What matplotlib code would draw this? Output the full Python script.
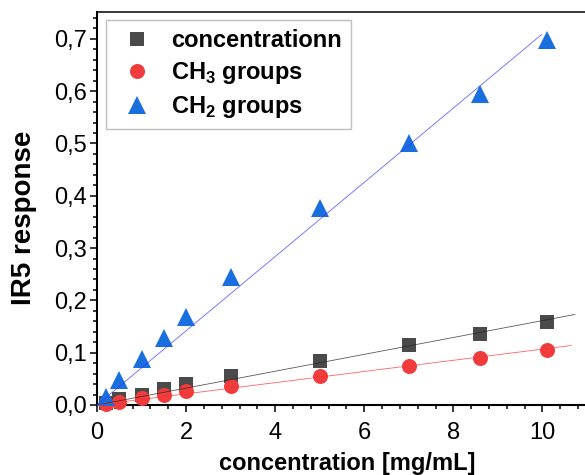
import numpy as np
import matplotlib
matplotlib.use("Agg")
import matplotlib.pyplot as plt

plt.rcParams['font.family'] = ['Liberation Sans', 'DejaVu Sans']
plt.rcParams['mathtext.fontset'] = 'custom'
plt.rcParams['mathtext.rm'] = 'Liberation Sans'
plt.rcParams['mathtext.bf'] = 'Liberation Sans:bold'

# concentrations [mg/mL] and IR5 detector response
conc = np.array([0.2, 0.5, 1.0, 1.5, 2.0, 3.0, 5.0, 7.0, 8.6, 10.1])
resp_conc = np.array([0.004, 0.012, 0.020, 0.030, 0.040, 0.056, 0.085, 0.114, 0.135, 0.158])
resp_ch3 = np.array([0.002, 0.006, 0.013, 0.020, 0.026, 0.036, 0.056, 0.075, 0.090, 0.105])
resp_ch2 = np.array([0.015, 0.048, 0.088, 0.128, 0.169, 0.244, 0.377, 0.500, 0.594, 0.697])

labels = ["concentrationn", r"CH$_\mathbf{3}$ groups", r"CH$_\mathbf{2}$ groups"]
# x-extent of each fitted line
fit_end = [10.73, 10.65, 9.98]

fig = plt.figure(figsize=(5.85, 4.75), dpi=100)
ax = fig.add_axes([0.1658, 0.1474, 0.8376, 0.8274])

series = [
    (resp_conc, 's', '#4a4a4a', 10.5, '#222222'),
    (resp_ch3, 'o', '#f03c3c', 10.8, '#ff3030'),
    (resp_ch2, '^', '#1a6fdf', 13.0, '#3333ff'),
]

for (y, mk, col, ms, lcol), lab, xe in zip(series, labels, fit_end):
    ax.plot(conc, y, mk, color=col, ms=ms, mew=0, label=lab, clip_on=False, zorder=3)
    # linear fit through the origin
    k = np.sum(conc * y) / np.sum(conc * conc)
    xf = np.array([0.0, xe])
    ax.plot(xf, k * xf, '-', color=lcol, lw=0.6, alpha=0.75, zorder=4)

ax.set_xlim(0, 11)
ax.set_ylim(0, 0.7514)
ax.set_xticks(np.arange(0, 11, 2))
ax.set_xticks(np.arange(0, 11, 0.4), minor=True)
ax.set_yticks(np.arange(0, 0.71, 0.1))
ax.set_yticks(np.arange(0, 0.75, 0.02), minor=True)
ax.set_yticklabels([f"{v:.1f}".replace('.', ',') for v in np.arange(0, 0.71, 0.1)])

for s in ['left', 'bottom']:
    ax.spines[s].set_linewidth(1.5)
ax.spines['top'].set_linewidth(1.1)
ax.spines['right'].set_linewidth(1.1)

ax.tick_params(which='major', direction='out', length=5, width=1.1, labelsize=17)
ax.tick_params(which='minor', direction='out', length=3, width=1.1)
ax.tick_params(axis='x', which='major', pad=7)
ax.tick_params(axis='y', which='major', pad=2)

ax.set_xlabel("concentration [mg/mL]", fontsize=17, fontweight='bold')
ax.xaxis.set_label_coords(0.51, -0.12)
ax.set_ylabel("IR5 response", fontsize=20, fontweight='bold')
ax.yaxis.set_label_coords(-0.122, 0.477)

leg = ax.legend(loc='upper left', bbox_to_anchor=(0.018, 0.98),
                prop={'weight': 'bold', 'size': 17}, frameon=True, fancybox=False,
                edgecolor='#b0b0b0', handlelength=1.8, handletextpad=0.57,
                borderpad=0.4, labelspacing=0.33, borderaxespad=0)
leg.get_frame().set_linewidth(1.0)

fig.savefig("out.png", dpi=100)
